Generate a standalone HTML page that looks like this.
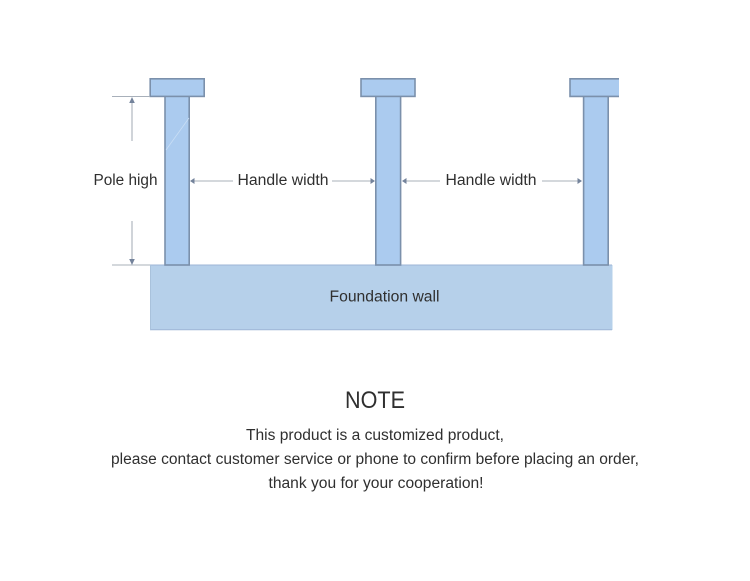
<!DOCTYPE html>
<html><head><meta charset="utf-8"><style>
html,body{margin:0;padding:0;background:#fff}
svg{display:block}
text{font-family:"Liberation Sans",sans-serif;fill:#2f2f2f}
</style></head><body>
<svg width="750" height="581" viewBox="0 0 750 581" xmlns="http://www.w3.org/2000/svg">
<rect width="750" height="581" fill="#fff"/>
<!-- foundation -->
<rect x="150.5" y="265" width="462" height="65" fill="#b6d0ea"/>
<line x1="150" y1="265" x2="612" y2="265" stroke="#9db5d6" stroke-width="1"/>
<line x1="150" y1="329.7" x2="612" y2="329.7" stroke="#9db5d6" stroke-width="1"/>
<line x1="150.5" y1="265" x2="150.5" y2="330" stroke="#a9c2dc" stroke-width="1"/>
<!-- poles -->
<g fill="#abcbef" stroke="#7b90ab" stroke-width="1.6">
<rect x="165" y="96" width="24.2" height="169"/>
<rect x="375.8" y="96" width="24.8" height="169"/>
<rect x="583.6" y="96" width="24.6" height="169"/>
<rect x="150.2" y="78.8" width="54" height="17.6"/>
<rect x="361" y="78.8" width="54" height="17.6"/>
</g>
<!-- right cap (cut off at right) -->
<path d="M619 78.8H570V96.4H619" fill="#abcbef" stroke="#7b90ab" stroke-width="1.6"/>
<line x1="166" y1="150" x2="189" y2="118" stroke="#c9def5" stroke-width="0.8"/>
<!-- dimensions -->
<g stroke="#a8b0ba" stroke-width="1.1" fill="none">
<line x1="112" y1="96.5" x2="150" y2="96.5"/>
<line x1="112" y1="265" x2="150" y2="265"/>
<line x1="132" y1="99" x2="132" y2="141"/>
<line x1="132" y1="221" x2="132" y2="262"/>
<line x1="193" y1="181" x2="233" y2="181"/>
<line x1="332" y1="181" x2="372" y2="181"/>
<line x1="405" y1="181" x2="440" y2="181"/>
<line x1="542" y1="181" x2="579" y2="181"/>
</g>
<g fill="#74839b">
<path d="M132 97l-2.8 6h5.6z"/>
<path d="M132 265l-2.8-6h5.6z"/>
<path d="M190 181l4.5-3v6z"/>
<path d="M375 181l-4.5-3v6z"/>
<path d="M402 181l4.5-3v6z"/>
<path d="M582 181l-4.5-3v6z"/>
</g>
<!-- labels -->
<text x="93.5" y="185" font-size="15.5" textLength="64" lengthAdjust="spacingAndGlyphs">Pole high</text>
<text x="237.5" y="185" font-size="15.5" textLength="91" lengthAdjust="spacingAndGlyphs">Handle width</text>
<text x="445.5" y="185" font-size="15.5" textLength="91" lengthAdjust="spacingAndGlyphs">Handle width</text>
<text x="329.5" y="301.5" font-size="15.5" textLength="110" lengthAdjust="spacingAndGlyphs">Foundation wall</text>
<text x="375" y="408" font-size="24" text-anchor="middle" textLength="60" lengthAdjust="spacingAndGlyphs">NOTE</text>
<text x="375" y="440" font-size="15.5" text-anchor="middle" textLength="258" lengthAdjust="spacingAndGlyphs">This product is a customized product,</text>
<text x="375" y="464" font-size="15.5" text-anchor="middle" textLength="528" lengthAdjust="spacingAndGlyphs">please contact customer service or phone to confirm before placing an order,</text>
<text x="376" y="488" font-size="15.5" text-anchor="middle" textLength="215" lengthAdjust="spacingAndGlyphs">thank you for your cooperation!</text>
</svg>
</body></html>
